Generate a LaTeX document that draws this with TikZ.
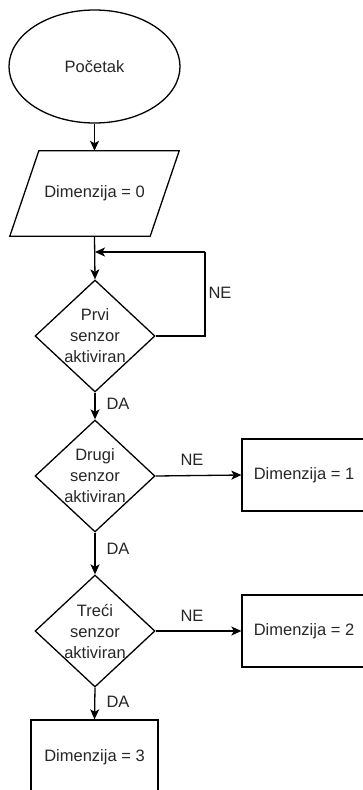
\documentclass[tikz,border=0pt]{standalone}
\usepackage{fontspec}
\setmainfont{Liberation Sans}
\usetikzlibrary{shapes.geometric,arrows.meta}
\begin{document}
\begin{tikzpicture}[x=1pt,y=-1pt,
  every node/.style={font=\fontsize{16.5}{21}\selectfont, text=black!85},
  shp/.style={draw, line width=1.3pt, inner sep=0pt},
  startbox/.style={shp, ellipse, minimum width=171pt, minimum height=113pt},
  iobox/.style={inner sep=0pt, minimum width=140pt, minimum height=85pt},
  decbox/.style={shp, diamond, minimum width=120pt, minimum height=112pt, aspect=1.07},
  procbox/.style={shp, rectangle},
  lbl/.style={inner sep=0pt},
  arr/.style={line width=1.3pt, -{Stealth[length=10pt,width=9pt,inset=2.5pt]}},
  ln/.style={line width=1.3pt}
]
\useasboundingbox (0,0) rectangle (362,790);
\node[startbox] (start) at (94.5,66.5) {Početak};
\node[iobox] (io) at (94.5,193.5) {Dimenzija = 0};
\draw[ln, line join=miter] ([xshift=14.5pt]io.north west) -- ([xshift=14.5pt]io.north east)
  -- ([xshift=-14.5pt]io.south east) -- ([xshift=-14.5pt]io.south west) -- cycle;
\node[decbox, label={[align=center]center:Prvi\\senzor\\aktiviran}] (d1) at (95,336) {};
\node[decbox, label={[align=center]center:Drugi\\senzor\\aktiviran}] (d2) at (95,476) {};
\node[decbox, label={[align=center]center:Treći\\senzor\\aktiviran}] (d3) at (95,631) {};
\node[procbox, minimum width=124pt, minimum height=72pt] (r1) at (304,475) {Dimenzija = 1};
\node[procbox, minimum width=124pt, minimum height=72pt] (r2) at (304,631) {Dimenzija = 2};
\node[procbox, minimum width=127pt, minimum height=74pt] (r3) at (94.5,757) {Dimenzija = 3};
\coordinate (loopR) at (205,252);
\coordinate (loopL) at (95,252);

\draw[arr] (start.south) -- (io.north);
\draw[arr] (io.south) -- (d1.north);
\draw[ln] (d1.east) -| (loopR);
\draw[arr] (loopR) -- (loopL);
\draw[arr] (d1.south) -- (d2.north);
\draw[arr] (d2.east) -- (r1.west);
\draw[arr] (d2.south) -- (d3.north);
\draw[arr] (d3.east) -- (r2.west);
\draw[arr] (d3.south) -- (r3.north);

\node[lbl] (ne1) at (220,293) {NE};
\node[lbl] (da1) at (118,404) {DA};
\node[lbl] (ne2) at (192,460) {NE};
\node[lbl] (da2) at (118,549) {DA};
\node[lbl] (ne3) at (192,616) {NE};
\node[lbl] (da3) at (118,702) {DA};
\end{tikzpicture}
\end{document}
